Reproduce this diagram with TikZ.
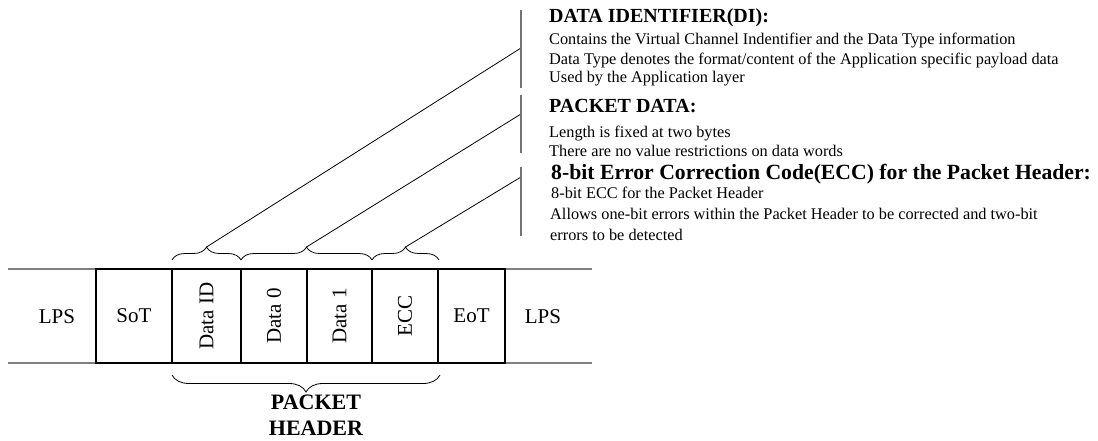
\documentclass[tikz,border=0pt]{standalone}
\usepackage{fontspec}
\setmainfont{Liberation Serif}
\usetikzlibrary{decorations.pathreplacing}
\begin{document}
\begin{tikzpicture}[x=1pt,y=-1pt,
  frameline/.style={draw=black!50, line width=2pt},
  cell/.style={draw, line width=2pt, minimum height=94pt, inner sep=0pt, font=\fontsize{21}{21}\selectfont},
  plain/.style={inner sep=0pt, font=\fontsize{21}{21}\selectfont},
  vlabel/.style={rotate=90},
  bracelow/.style={decorate, decoration={brace, amplitude=13pt}, line width=0.8pt},
  bracebig/.style={decorate, decoration={brace, mirror, amplitude=17pt}, line width=0.8pt},
  leader/.style={draw, line width=0.8pt},
  bar/.style={draw=black!55, line width=1.4pt},
  title/.style={anchor=base west, inner sep=0pt, font=\fontsize{20}{20}\selectfont\bfseries},
  bigtitle/.style={anchor=base west, inner sep=0pt, font=\fontsize{21.7}{21.7}\selectfont\bfseries},
  body/.style={anchor=base west, inner sep=0pt, font=\fontsize{16.3}{16.3}\selectfont},
  hdr/.style={inner sep=0pt, align=center, font=\fontsize{22}{26}\selectfont\bfseries}
]
\useasboundingbox (0,0) rectangle (1098,441);

% gray frame lines
\coordinate (gl1) at (8,269);
\coordinate (gl2) at (8,363);
\coordinate (gr1) at (592,269);
\coordinate (gr2) at (592,363);
\draw[frameline] (gl1) -- (gr1);
\draw[frameline] (gl2) -- (gr2);

% cells
\node[cell, fill=white, minimum width=76pt] (sot) at (134,316) {SoT};
\node[cell, fill=white, minimum width=69pt] (did) at (206.5,316) {};
\node[cell, fill=white, minimum width=66pt] (d0) at (274,316) {};
\node[cell, fill=white, minimum width=65pt] (d1) at (339.5,316) {};
\node[cell, fill=white, minimum width=66pt] (ecc) at (405,316) {};
\node[cell, fill=white, minimum width=67pt] (eot) at (471.5,316) {EoT};
\node[plain, vlabel] (didt) at (did) {Data ID};
\node[plain, vlabel] (d0t) at (d0) {Data 0};
\node[plain, vlabel] (d1t) at (d1) {Data 1};
\node[plain, vlabel] (ecct) at (ecc) {ECC};
\node[plain] (lpsl) at (57,317) {LPS};
\node[plain] (lpsr) at (543,317) {LPS};

% top braces
\coordinate (b1a) at (172,260);
\coordinate (b1b) at (241,260);
\coordinate (b2a) at (241,260);
\coordinate (b2b) at (372,260);
\coordinate (b3a) at (372,260);
\coordinate (b3b) at (439,260);
\draw[bracelow] (b1a) -- (b1b);
\draw[bracelow] (b2a) -- (b2b);
\draw[bracelow] (b3a) -- (b3b);

% leader lines
\coordinate (t1) at (206.5,247);
\coordinate (t2) at (306.5,247);
\coordinate (t3) at (405.5,247);
\coordinate (e1) at (521,48);
\coordinate (e2) at (521,114);
\coordinate (e3) at (521,177);
\draw[leader] (t1) -- (e1);
\draw[leader] (t2) -- (e2);
\draw[leader] (t3) -- (e3);

% vertical bars
\coordinate (v1a) at (521,10);
\coordinate (v1b) at (521,88);
\coordinate (v2a) at (521,95);
\coordinate (v2b) at (521,153);
\coordinate (v3a) at (521,167);
\coordinate (v3b) at (521,236);
\draw[bar] (v1a) -- (v1b);
\draw[bar] (v2a) -- (v2b);
\draw[bar] (v3a) -- (v3b);

% bottom brace
\coordinate (bba) at (172,375);
\coordinate (bbb) at (440,375);
\draw[bracebig] (bba) -- (bbb);
\node[hdr, anchor=base] (ph1) at (316,409) {PACKET};
\node[hdr, anchor=base] (ph2) at (316,435) {HEADER};

% texts
\node[title] (ti1) at (549,22.7) {DATA IDENTIFIER(DI):};
\node[body] (a1) at (549,45) {Contains the Virtual Channel Indentifier and the Data Type information};
\node[body] (a2) at (549,64.3) {Data Type denotes the format/content of the Application specific payload data};
\node[body] (a3) at (549,83) {Used by the Application layer};
\node[title] (ti2) at (549,113) {PACKET DATA:};
\node[body] (b1) at (549,137.3) {Length is fixed at two bytes};
\node[body] (b2) at (549,156.7) {There are no value restrictions on data words};
\node[bigtitle] (ti3) at (551,179.3) {8-bit Error Correction Code(ECC) for the Packet Header:};
\node[body] (c1) at (551,198.3) {8-bit ECC for the Packet Header};
\node[body] (c2) at (550,219) {Allows one-bit errors within the Packet Header to be corrected and two-bit};
\node[body] (c3) at (550,240) {errors to be detected};
\end{tikzpicture}
\end{document}
